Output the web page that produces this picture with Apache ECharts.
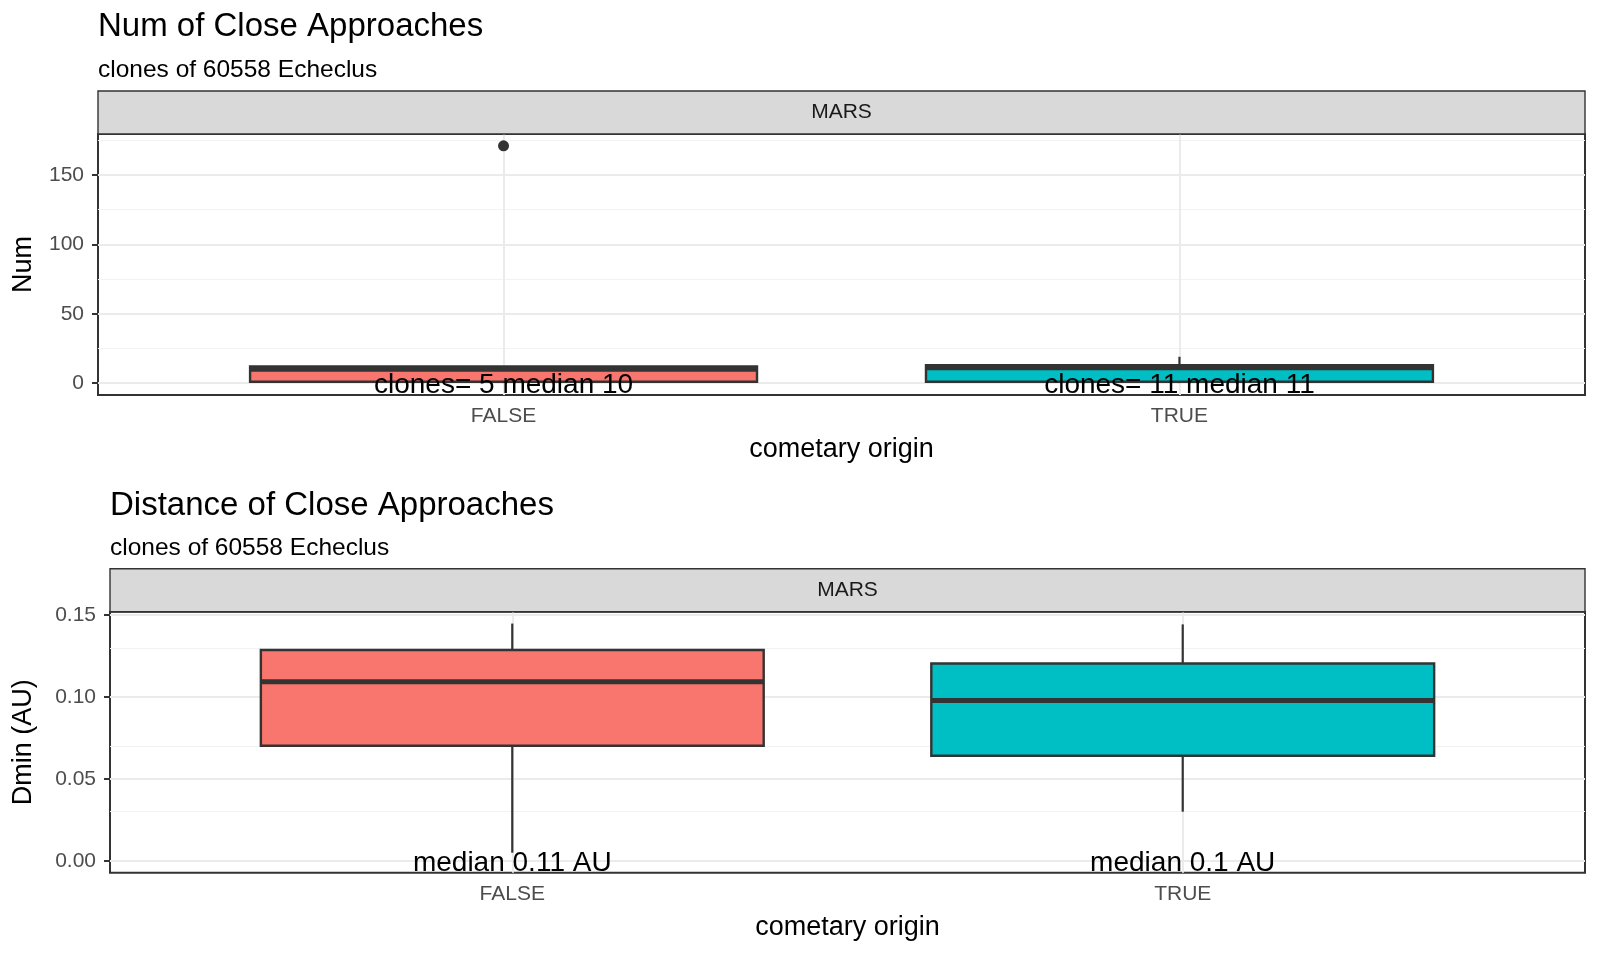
<!DOCTYPE html>
<html>
<head>
<meta charset="utf-8">
<script src="https://cdn.jsdelivr.net/npm/echarts@6/dist/echarts.min.js"></script>
<style>
  html, body { margin: 0; padding: 0; background: #ffffff; }
  #chart { width: 1600px; height: 955px; }
</style>
</head>
<body>
<div id="chart"></div>
<script>
// ---------------- data ----------------
const categories = ['FALSE', 'TRUE'];
const boxColors = ['#F8766D', '#00BFC4'];

// Panel 1: number of close approaches
const numMin    = [0, 0];
const numQ1     = [1, 1];
const numMedian = [10, 11];
const numQ3     = [12, 13];
const numMax    = [12, 19];
const numOutliers = [[1, 171]];      // [category position, value]
const numClones = [5, 11];
const numTicks = [0, 50, 100, 150];
const numMinorTicks = [25, 75, 125, 175];

// Panel 2: distance of close approaches (AU)
const dminMin    = [0.005, 0.030];
const dminQ1     = [0.0703, 0.0642];
const dminMedian = [0.1094, 0.0979];
const dminQ3     = [0.1288, 0.1205];
const dminMax    = [0.1449, 0.1444];
const dminTicks = [0, 0.05, 0.10, 0.15];
const dminTickLabels = ['0.00', '0.05', '0.10', '0.15'];
const dminMinorTicks = [0.025, 0.075, 0.125];

const xTicks = [1, 2];

// ---------------- helpers ----------------
const FONT = '"Liberation Sans", Arial, Helvetica, sans-serif';
const GRID_MAJOR = '#EBEBEB';
const GRID_MINOR = '#F2F2F2';
const DARK = '#333333';

function boxData(mn, q1, md, q3, mx) {
  return categories.map((c, i) => [i + 1, mn[i], q1[i], md[i], q3[i], mx[i]]);
}
function yRange(values) {
  const lo = Math.min(0, ...values), hi = Math.max(...values);
  const pad = (hi - lo) * 0.05;
  return [lo - pad, hi + pad];
}
const numRange = yRange([].concat(numMin, numMax, numOutliers.map(d => d[1])));
const dminRange = yRange([].concat(dminMin, dminMax));

function renderBox(params, api) {
  const x = api.value(0);
  const hw = 0.375;
  const pMin = api.coord([x, api.value(1)]);
  const pQ1 = api.coord([x, api.value(2)]);
  const pMed = api.coord([x, api.value(3)]);
  const pQ3 = api.coord([x, api.value(4)]);
  const pMax = api.coord([x, api.value(5)]);
  const left = api.coord([x - hw, api.value(3)])[0];
  const right = api.coord([x + hw, api.value(3)])[0];
  const fill = boxColors[params.dataIndex];
  return {
    type: 'group',
    children: [
      { type: 'line', shape: { x1: pMax[0], y1: pMax[1], x2: pQ3[0], y2: pQ3[1] }, style: { stroke: DARK, lineWidth: 2.2 } },
      { type: 'line', shape: { x1: pQ1[0], y1: pQ1[1], x2: pMin[0], y2: pMin[1] }, style: { stroke: DARK, lineWidth: 2.2 } },
      { type: 'rect', shape: { x: left, y: pQ3[1], width: right - left, height: pQ1[1] - pQ3[1] }, style: { fill: fill, stroke: DARK, lineWidth: 2.4 } },
      { type: 'line', shape: { x1: left, y1: pMed[1], x2: right, y2: pMed[1] }, style: { stroke: DARK, lineWidth: 5 } }
    ]
  };
}

function gridLineSeries(idx, majorY, minorY) {
  const data = [];
  minorY.forEach(v => data.push({ yAxis: v, lineStyle: { color: GRID_MINOR, width: 1.2 } }));
  majorY.forEach(v => data.push({ yAxis: v, lineStyle: { color: GRID_MAJOR, width: 2 } }));
  xTicks.forEach(v => data.push({ xAxis: v, lineStyle: { color: GRID_MAJOR, width: 2 } }));
  return {
    type: 'scatter', xAxisIndex: idx, yAxisIndex: idx, data: [], silent: true, z: 1,
    markLine: {
      silent: true, symbol: ['none', 'none'], label: { show: false }, z: 1,
      lineStyle: { type: 'solid' }, emphasis: { disabled: true },
      data: data
    }
  };
}

function xAxisFor(idx) {
  return {
    gridIndex: idx, type: 'value', min: 0.4, max: 2.6,
    name: 'cometary origin', nameLocation: 'middle', nameGap: 41,
    nameTextStyle: { fontFamily: FONT, fontSize: 27, color: '#000' },
    axisLine: { show: false },
    axisTick: { show: true, length: 6, customValues: xTicks, lineStyle: { color: DARK, width: 2 } },
    axisLabel: { customValues: xTicks, margin: 11, fontFamily: FONT, fontSize: 21, color: '#4D4D4D',
                 formatter: v => categories[Math.round(v) - 1] || '' },
    splitLine: { show: false }
  };
}

function yAxisFor(idx, name, range, ticks, fmt, nameGap) {
  return {
    gridIndex: idx, type: 'value', min: range[0], max: range[1],
    name: name, nameLocation: 'middle', nameGap: nameGap,
    nameTextStyle: { fontFamily: FONT, fontSize: 27, color: '#000' },
    axisLine: { show: false },
    axisTick: { show: true, length: 6, customValues: ticks, lineStyle: { color: DARK, width: 2 } },
    axisLabel: { customValues: ticks, margin: 14, fontFamily: FONT, fontSize: 21, color: '#4D4D4D',
                 padding: [4, 0, 0, 0], formatter: fmt },
    splitLine: { show: false }
  };
}

// layout
const P1 = { left: 98, top: 134, width: 1487, height: 261 };
const P2 = { left: 110, top: 611.7, width: 1475, height: 261 };
const STRIP_H = 43;

const numLabels = categories.map((c, i) => 'clones= ' + numClones[i] + ' median ' + numMedian[i]);
const dminLabels = categories.map((c, i) => 'median ' + Number(dminMedian[i].toFixed(2)) + ' AU');

const chart = echarts.init(document.getElementById('chart'), null, { renderer: 'canvas' });

function annotSeries(idx, labels) {
  return {
    type: 'scatter', xAxisIndex: idx, yAxisIndex: idx, z: 6, silent: true,
    symbolSize: 1, itemStyle: { color: 'rgba(0,0,0,0)', opacity: 1 },
    data: labels.map((l, i) => [i + 1, 0]),
    label: { show: true, position: 'inside', offset: [0, 2], fontFamily: FONT, fontSize: 28, color: '#000',
             formatter: p => labels[p.dataIndex] }
  };
}

function stripGraphic(P, label) {
  return [
    { type: 'rect', z: 10, shape: { x: P.left, y: P.top - STRIP_H, width: P.width, height: STRIP_H },
      style: { fill: '#D9D9D9', stroke: DARK, lineWidth: 1.4 } },
    { type: 'text', z: 11, x: P.left + P.width / 2, y: P.top - STRIP_H / 2,
      style: { text: label, fontFamily: FONT, fontSize: 21, fill: '#1A1A1A', align: 'center', verticalAlign: 'middle' } }
  ];
}

const option = {
  animation: false,
  backgroundColor: '#ffffff',
  title: [
    { text: 'Num of Close Approaches', left: 98, top: 10, padding: 0,
      textStyle: { fontFamily: FONT, fontSize: 33, fontWeight: 'normal', color: '#000' } },
    { text: 'clones of 60558 Echeclus', left: 98, top: 58, padding: 0,
      textStyle: { fontFamily: FONT, fontSize: 24.5, fontWeight: 'normal', color: '#000' } },
    { text: 'Distance of Close Approaches', left: 110, top: 489, padding: 0,
      textStyle: { fontFamily: FONT, fontSize: 33, fontWeight: 'normal', color: '#000' } },
    { text: 'clones of 60558 Echeclus', left: 110, top: 536, padding: 0,
      textStyle: { fontFamily: FONT, fontSize: 24.5, fontWeight: 'normal', color: '#000' } }
  ],
  grid: [
    Object.assign({ show: true, borderColor: DARK, borderWidth: 2, backgroundColor: '#fff' }, P1),
    Object.assign({ show: true, borderColor: DARK, borderWidth: 2, backgroundColor: '#fff' }, P2)
  ],
  xAxis: [xAxisFor(0), xAxisFor(1)],
  yAxis: [
    yAxisFor(0, 'Num', numRange, numTicks, v => String(Math.round(v)), 61),
    yAxisFor(1, 'Dmin (AU)', dminRange, dminTicks, v => dminTickLabels[dminTicks.findIndex(t => Math.abs(t - v) < 1e-9)] || '', 73)
  ],
  series: [
    gridLineSeries(0, numTicks, numMinorTicks),
    gridLineSeries(1, dminTicks, dminMinorTicks),
    { type: 'custom', xAxisIndex: 0, yAxisIndex: 0, z: 3, renderItem: renderBox,
      data: boxData(numMin, numQ1, numMedian, numQ3, numMax) },
    { type: 'scatter', xAxisIndex: 0, yAxisIndex: 0, z: 4, symbolSize: 11,
      itemStyle: { color: DARK, opacity: 1 }, data: numOutliers },
    { type: 'custom', xAxisIndex: 1, yAxisIndex: 1, z: 3, renderItem: renderBox,
      data: boxData(dminMin, dminQ1, dminMedian, dminQ3, dminMax) },
    annotSeries(0, numLabels),
    annotSeries(1, dminLabels)
  ],
  graphic: [].concat(stripGraphic(P1, 'MARS'), stripGraphic(P2, 'MARS'))
};
chart.setOption(option);
</script>
</body>
</html>
